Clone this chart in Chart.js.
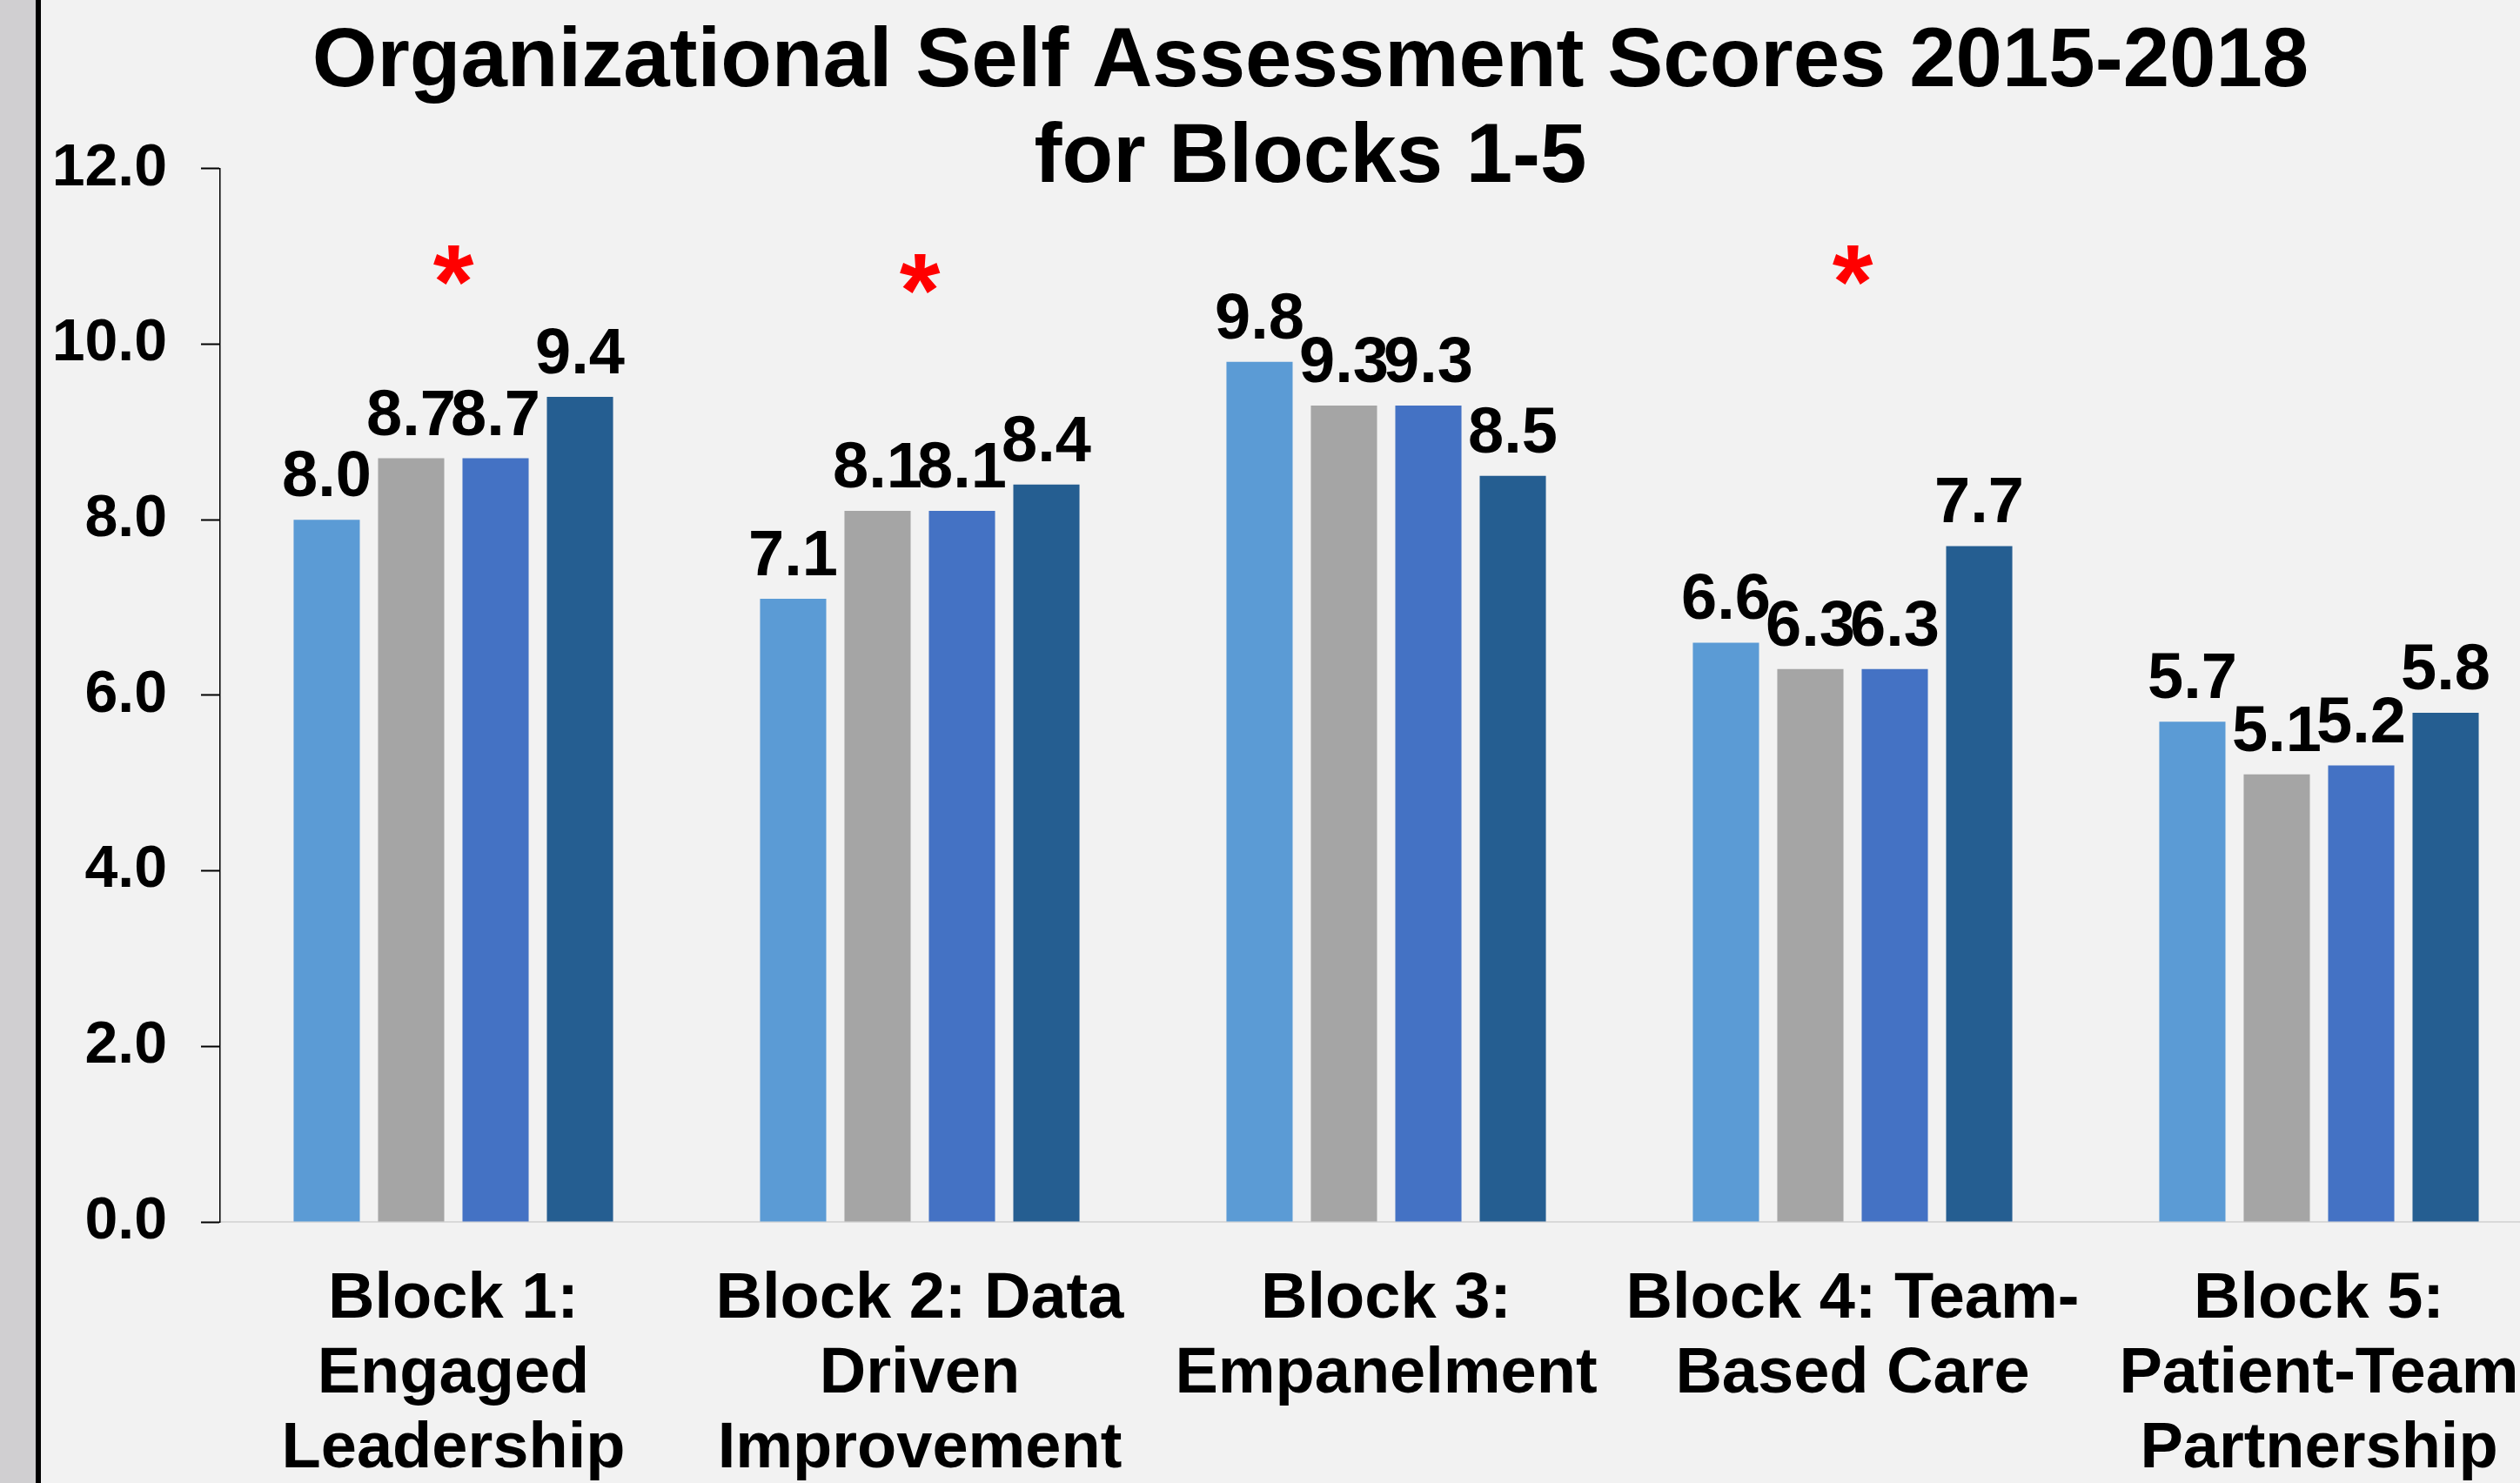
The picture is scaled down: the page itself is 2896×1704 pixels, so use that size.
<!DOCTYPE html>
<html lang="en">
  <head>
    <meta charset="UTF-8" />
    <title>Organizational Self Assessment Scores 2015-2018</title>
    <script src="https://cdn.jsdelivr.net/npm/chart.js@4.4.1/dist/chart.umd.min.js"></script>
    <style>
      html, body {
        margin: 0;
        padding: 0;
        overflow: hidden;
        background-color: #f2f2f2;
      }

      .side-strip {
        position: absolute;
        left: 0;
        top: 0;
        width: 41px;
        height: 1704px;
        background-color: #d0cfd1;
        border-right: 6px solid #000;
        z-index: 2;
      }

      .chart-container {
        position: absolute;
        left: 0;
        top: 0;
        width: 3012px;
        height: 1704px;
      }
    </style>
  </head>
  <body>
    <div class="side-strip"></div>
    <div class="chart-container">
      <canvas id="osaChart"></canvas>
    </div>

    <script>
      const categories = [
        ["Block 1:", "Engaged", "Leadership"],
        ["Block 2: Data", "Driven", "Improvement"],
        ["Block 3:", "Empanelment"],
        ["Block 4: Team-", "Based Care"],
        ["Block 5:", "Patient-Team", "Partnership"],
      ];

      const years = ["2015", "2016", "2017", "2018"];

      const scores2015 = [8.0, 7.1, 9.8, 6.6, 5.7];
      const scores2016 = [8.7, 8.1, 9.3, 6.3, 5.1];
      const scores2017 = [8.7, 8.1, 9.3, 6.3, 5.2];
      const scores2018 = [9.4, 8.4, 8.5, 7.7, 5.8];

      // height (in score units) of the red significance marks, null = none
      const asteriskLevels = [10.9, 10.8, null, 10.9, null];

      const yTicks = [0, 2, 4, 6, 8, 10, 12];

      const colors = ["#5b9bd5", "#a5a5a5", "#4472c4", "#255e91"];
      const fontFamily = "'Liberation Sans', Arial, sans-serif";

      const datasets = [scores2015, scores2016, scores2017, scores2018].map((data, i) => ({
        label: years[i],
        data: data,
        backgroundColor: colors[i],
        borderWidth: 0,
        categoryPercentage: 0.724,
        barPercentage: 0.784,
      }));

      // value labels above every bar
      const valueLabels = {
        id: "valueLabels",
        afterDatasetsDraw(chart) {
          const ctx = chart.ctx;
          ctx.save();
          ctx.font = "bold 74px " + fontFamily;
          ctx.fillStyle = "#000";
          ctx.textAlign = "center";
          ctx.textBaseline = "alphabetic";
          chart.data.datasets.forEach((ds, di) => {
            chart.getDatasetMeta(di).data.forEach((bar, i) => {
              ctx.fillText(ds.data[i].toFixed(1), bar.x, bar.y - 27);
            });
          });
          ctx.restore();
        },
      };

      // red asterisks above some blocks
      const asterisks = {
        id: "asterisks",
        afterDatasetsDraw(chart) {
          const ctx = chart.ctx;
          const xs = chart.scales.x;
          const ys = chart.scales.y;
          ctx.save();
          ctx.font = "bold 120px " + fontFamily;
          ctx.fillStyle = "#ff0000";
          ctx.textAlign = "center";
          ctx.textBaseline = "alphabetic";
          const m = ctx.measureText("*");
          const mid = (m.actualBoundingBoxAscent - m.actualBoundingBoxDescent) / 2;
          asteriskLevels.forEach((lvl, i) => {
            if (lvl === null) return;
            ctx.fillText("*", xs.getPixelForValue(i), ys.getPixelForValue(lvl) + mid);
          });
          ctx.restore();
        },
      };

      const ctx = document.getElementById("osaChart").getContext("2d");

      new Chart(ctx, {
        type: "bar",
        data: { labels: categories, datasets },
        options: {
          responsive: true,
          maintainAspectRatio: false,
          animation: false,
          layout: { padding: 0 },
          plugins: {
            legend: { display: false },
            tooltip: { enabled: false },
            title: {
              display: true,
              text: ["Organizational Self Assessment Scores 2015-2018", "for Blocks 1-5"],
              color: "#000",
              font: { family: fontFamily, size: 96, weight: "bold", lineHeight: 1.15 },
              padding: { top: 17, bottom: -44 },
            },
          },
          scales: {
            x: {
              afterFit(scale) {
                scale.height = 300;
              },
              grid: { display: false, drawTicks: false },
              border: { display: true, color: "#d9d9d9", width: 2 },
              ticks: {
                color: "#000",
                padding: 47,
                maxRotation: 0,
                autoSkip: false,
                font: { family: fontFamily, size: 74, weight: "bold", lineHeight: 1.16 },
              },
            },
            y: {
              min: 0,
              max: 12,
              afterFit(scale) {
                scale.width = 253;
              },
              afterBuildTicks(scale) {
                scale.ticks = yTicks.map((v) => ({ value: v }));
              },
              grid: {
                display: true,
                drawOnChartArea: false,
                drawTicks: true,
                tickLength: 22,
                tickColor: "#000",
                tickWidth: 2,
              },
              border: { display: true, color: "#000", width: 1.5 },
              ticks: {
                color: "#000",
                padding: 39,
                font: { family: fontFamily, size: 68, weight: "bold" },
                callback: (v) => Number(v).toFixed(1),
              },
            },
            // empty axis that keeps the plot edge where the reference crops it
            spacer: {
              type: "linear",
              position: "right",
              display: true,
              afterFit(scale) {
                scale.width = 79;
              },
              grid: { display: false, drawTicks: false },
              border: { display: false },
              ticks: { display: false },
            },
          },
        },
        plugins: [valueLabels, asterisks],
      });
    </script>
  </body>
</html>
